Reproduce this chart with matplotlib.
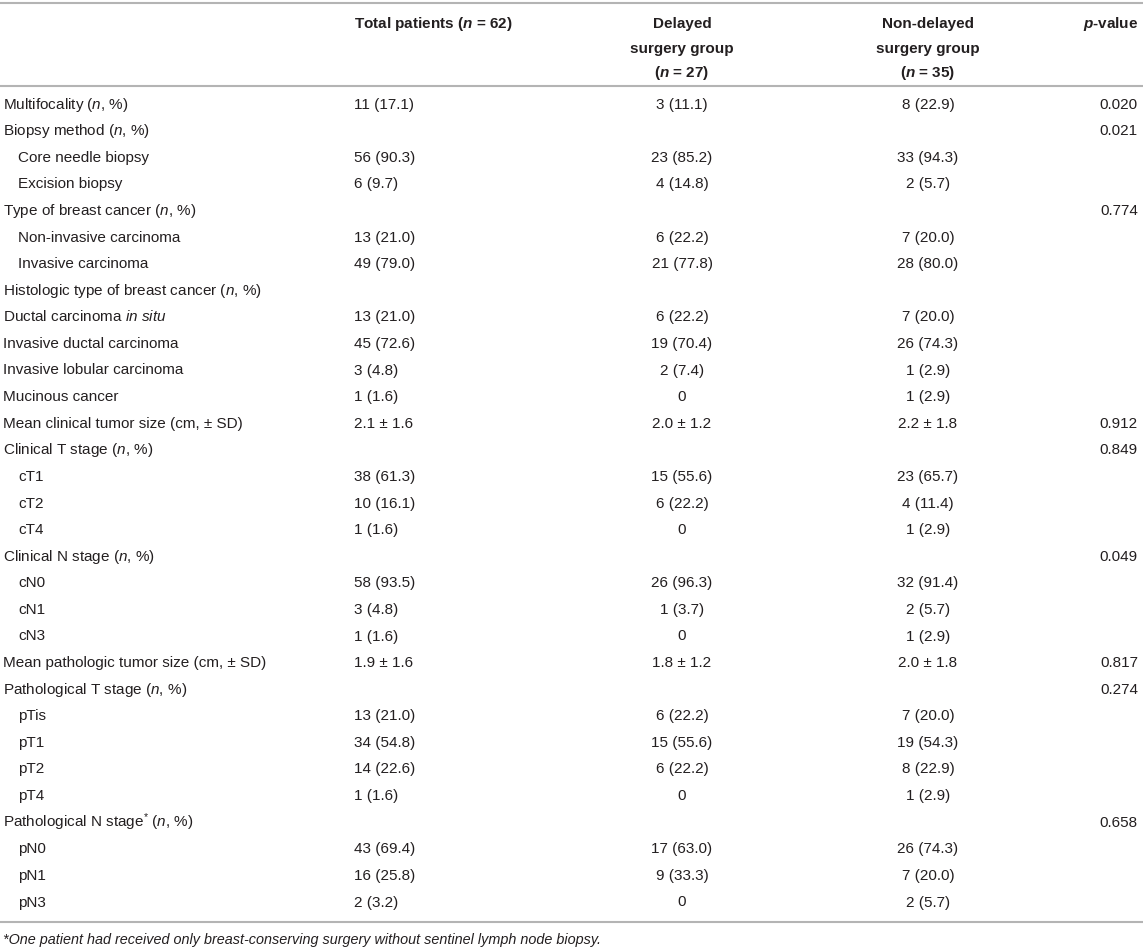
import matplotlib
matplotlib.use("Agg")
import matplotlib.pyplot as plt

plt.rcParams['font.family'] = ['Liberation Sans', 'DejaVu Sans']
plt.rcParams['mathtext.fontset'] = 'custom'
plt.rcParams['mathtext.rm'] = 'Liberation Sans'
plt.rcParams['mathtext.it'] = 'Liberation Sans:italic'
plt.rcParams['mathtext.bf'] = 'Liberation Sans:bold'
plt.rcParams['mathtext.bfit'] = 'Liberation Sans:italic:bold'

# table content
headers = [r"Total patients ($\mathbfit{n}$ = 62)",
           "Delayed\nsurgery group\n" + r"($\mathbfit{n}$ = 27)",
           "Non-delayed\nsurgery group\n" + r"($\mathbfit{n}$ = 35)",
           r"$\mathbfit{p}$-value"]

labels = [r"Multifocality ($\mathit{n}$, %)",
          r"Biopsy method ($\mathit{n}$, %)",
          "Core needle biopsy",
          "Excision biopsy",
          r"Type of breast cancer ($\mathit{n}$, %)",
          "Non-invasive carcinoma",
          "Invasive carcinoma",
          r"Histologic type of breast cancer ($\mathit{n}$, %)",
          r"Ductal carcinoma $\mathit{in\ situ}$",
          "Invasive ductal carcinoma",
          "Invasive lobular carcinoma",
          "Mucinous cancer",
          "Mean clinical tumor size (cm, ± SD)",
          r"Clinical T stage ($\mathit{n}$, %)",
          "cT1", "cT2", "cT4",
          r"Clinical N stage ($\mathit{n}$, %)",
          "cN0", "cN1", "cN3",
          "Mean pathologic tumor size (cm, ± SD)",
          r"Pathological T stage ($\mathit{n}$, %)",
          "pTis", "pT1", "pT2", "pT4",
          r"Pathological N stage$^{*}$ ($\mathit{n}$, %)",
          "pN0", "pN1", "pN3"]

indented = [0, 0, 1, 1, 0, 1, 1, 0, 0, 0, 0, 0, 0, 0, 1, 1, 1, 0, 1, 1, 1,
            0, 0, 1, 1, 1, 1, 0, 1, 1, 1]

total = ["11 (17.1)", "", "56 (90.3)", "6 (9.7)", "", "13 (21.0)", "49 (79.0)", "",
         "13 (21.0)", "45 (72.6)", "3 (4.8)", "1 (1.6)", "2.1 ± 1.6", "",
         "38 (61.3)", "10 (16.1)", "1 (1.6)", "", "58 (93.5)", "3 (4.8)", "1 (1.6)",
         "1.9 ± 1.6", "", "13 (21.0)", "34 (54.8)", "14 (22.6)", "1 (1.6)", "",
         "43 (69.4)", "16 (25.8)", "2 (3.2)"]

delayed = ["3 (11.1)", "", "23 (85.2)", "4 (14.8)", "", "6 (22.2)", "21 (77.8)", "",
           "6 (22.2)", "19 (70.4)", "2 (7.4)", "0", "2.0 ± 1.2", "",
           "15 (55.6)", "6 (22.2)", "0", "", "26 (96.3)", "1 (3.7)", "0",
           "1.8 ± 1.2", "", "6 (22.2)", "15 (55.6)", "6 (22.2)", "0", "",
           "17 (63.0)", "9 (33.3)", "0"]

nondelayed = ["8 (22.9)", "", "33 (94.3)", "2 (5.7)", "", "7 (20.0)", "28 (80.0)", "",
              "7 (20.0)", "26 (74.3)", "1 (2.9)", "1 (2.9)", "2.2 ± 1.8", "",
              "23 (65.7)", "4 (11.4)", "1 (2.9)", "", "32 (91.4)", "2 (5.7)", "1 (2.9)",
              "2.0 ± 1.8", "", "7 (20.0)", "19 (54.3)", "8 (22.9)", "1 (2.9)", "",
              "26 (74.3)", "7 (20.0)", "2 (5.7)"]

pvalues = ["0.020", "0.021", "", "", "0.774", "", "", "", "", "", "", "", "0.912",
           "0.849", "", "", "", "0.049", "", "", "", "0.817", "0.274", "", "", "", "",
           "0.658", "", "", ""]

footnote = "*One patient had received only breast-conserving surgery without sentinel lymph node biopsy."

W, H = 1143, 949
fig = plt.figure(figsize=(W / 100, H / 100), dpi=100)
ax = fig.add_axes([0, 0, 1, 1])
ax.set_xlim(0, W)
ax.set_ylim(H, 0)
ax.axis('off')

txt = '#231f20'
line_c = '#b4b4b4'
fs = 11

# column positions (pixels)
x_label, x_indent = 3, 18
x_total = 354
x_del = 682
x_non = 928
x_p = 1138

# rules
for y in [3, 86, 922]:
    ax.plot([0, W], [y, y], color=line_c, lw=1.5, solid_capstyle='butt')

# header
hy, hdy = 28, 24.5
ax.text(x_total, hy, headers[0], fontsize=fs, fontweight='bold', color=txt,
        ha='left', va='baseline')
for i, line in enumerate(headers[1].split("\n")):
    ax.text(x_del, hy + hdy * i, line, fontsize=fs, fontweight='bold', color=txt,
            ha='center', va='baseline')
for i, line in enumerate(headers[2].split("\n")):
    ax.text(x_non, hy + hdy * i, line, fontsize=fs, fontweight='bold', color=txt,
            ha='center', va='baseline')
ax.text(x_p, hy, headers[3], fontsize=fs, fontweight='bold', color=txt,
        ha='right', va='baseline')

# body
y0, dy = 108.5, 26.6
for i in range(len(labels)):
    y = y0 + dy * i
    ax.text(x_indent if indented[i] else x_label, y, labels[i], fontsize=fs,
            color=txt, ha='left', va='baseline')
    ax.text(x_total, y, total[i], fontsize=fs, color=txt, ha='left', va='baseline')
    ax.text(x_del, y, delayed[i], fontsize=fs, color=txt, ha='center', va='baseline')
    ax.text(x_non, y, nondelayed[i], fontsize=fs, color=txt, ha='center', va='baseline')
    ax.text(x_p, y, pvalues[i], fontsize=fs, color=txt, ha='right', va='baseline')

ax.text(x_label, 944, footnote, fontsize=10.4, style='italic', color=txt,
        ha='left', va='baseline')

fig.savefig("out.png", dpi=100)
